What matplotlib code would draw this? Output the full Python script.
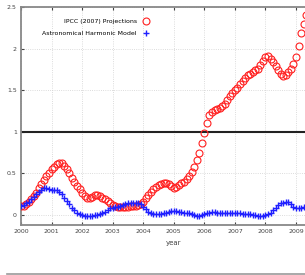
import numpy as np
import matplotlib
matplotlib.use("Agg")
import matplotlib.pyplot as plt
from matplotlib.lines import Line2D

# monthly values, starting Jan 2000
ipcc = [0.11, 0.11, 0.13, 0.16, 0.19, 0.23, 0.27, 0.32, 0.37, 0.42, 0.47, 0.51,
        0.55, 0.58, 0.61, 0.63, 0.62, 0.59, 0.55, 0.50, 0.45, 0.40, 0.35, 0.31,
        0.27, 0.23, 0.21, 0.20, 0.22, 0.24, 0.24, 0.23, 0.21, 0.19, 0.17, 0.14,
        0.12, 0.11, 0.10, 0.10, 0.10, 0.10, 0.10, 0.11, 0.11, 0.11, 0.12, 0.13,
        0.16, 0.20, 0.24, 0.28, 0.31, 0.34, 0.36, 0.37, 0.38, 0.38, 0.37, 0.35,
        0.33, 0.34, 0.36, 0.38, 0.40, 0.43, 0.47, 0.52, 0.58, 0.66, 0.75, 0.87,
        0.98, 1.10, 1.20, 1.24, 1.26, 1.27, 1.29, 1.31, 1.34, 1.38, 1.43, 1.47,
        1.50, 1.53, 1.57, 1.61, 1.65, 1.68, 1.70, 1.72, 1.74, 1.76, 1.80, 1.85,
        1.90, 1.91, 1.88, 1.84, 1.79, 1.74, 1.69, 1.67, 1.68, 1.72, 1.76, 1.82,
        1.90, 2.03, 2.19, 2.30, 2.40, 2.48]

harmonic = [0.11, 0.12, 0.14, 0.16, 0.19, 0.22, 0.25, 0.28, 0.30, 0.32, 0.32, 0.31,
            0.30, 0.30, 0.30, 0.28, 0.25, 0.21, 0.17, 0.13, 0.09, 0.06, 0.03, 0.01,
            0.00, -0.01, -0.01, -0.01, -0.01, 0.00, 0.00, 0.01, 0.02, 0.04, 0.06, 0.08,
            0.09, 0.10, 0.10, 0.11, 0.12, 0.13, 0.14, 0.14, 0.14, 0.14, 0.14, 0.13,
            0.10, 0.07, 0.04, 0.02, 0.01, 0.01, 0.01, 0.01, 0.02, 0.02, 0.04, 0.05,
            0.05, 0.05, 0.04, 0.04, 0.03, 0.02, 0.02, 0.01, 0.00, -0.01, -0.01, 0.00,
            0.01, 0.02, 0.03, 0.04, 0.04, 0.03, 0.02, 0.02, 0.02, 0.02, 0.03, 0.02,
            0.02, 0.02, 0.02, 0.01, 0.01, 0.01, 0.01, 0.00, 0.00, -0.01, -0.01, -0.01,
            0.00, 0.01, 0.03, 0.06, 0.09, 0.12, 0.14, 0.15, 0.16, 0.16, 0.13, 0.10,
            0.08, 0.08, 0.09, 0.10, 0.10, 0.10]

yrs = 2000 + np.arange(len(ipcc)) / 12.0
xticks = list(range(2000, 2010))
yticks = [0, 0.5, 1, 1.5, 2, 2.5]
yticklabels = ["0", "0.5", "1", "1.5", "2", "2.5"]

fig = plt.figure(figsize=(3.05, 2.75), dpi=100)
ax = fig.add_axes([21/305, 50/275, 305.6/305, 218/275])

ax.plot(yrs, ipcc, 'o', mfc='none', mec='#ff2020', ms=5, mew=0.8,
        label='IPCC (2007) Projections', zorder=3)
ax.plot(yrs, harmonic, '+', color='#2020ff', ms=3.8, mew=1.0,
        label='Astronomical Harmonic Model', zorder=3)
ax.axhline(1, color='#222222', lw=1.5, zorder=2)

ax.set_xlim(2000, 2010)
ax.set_ylim(-0.12, 2.5)
ax.set_xticks(xticks)
ax.set_yticks(yticks)
ax.set_yticklabels(yticklabels)
ax.grid(True, color='#d0d0d0', ls=':', lw=0.6)
ax.tick_params(labelsize=4.5, colors='#444444', direction='in', length=2,
               top=True, right=True, pad=3)
for s in ax.spines.values():
    s.set_color('#888888')
    s.set_linewidth(1.3)
ax.set_xlabel('year', fontsize=5, color='#444444', labelpad=4)

ax.legend(loc='upper right', bbox_to_anchor=(0.44, 0.965), markerfirst=False,
          frameon=False, fontsize=4.5, handlelength=1.5, labelspacing=1.0,
          borderpad=0.2)

fig.add_artist(Line2D([7/305, 1], [1/275, 1/275], color='#999999', lw=1.2))

fig.savefig('out.png', dpi=100)
